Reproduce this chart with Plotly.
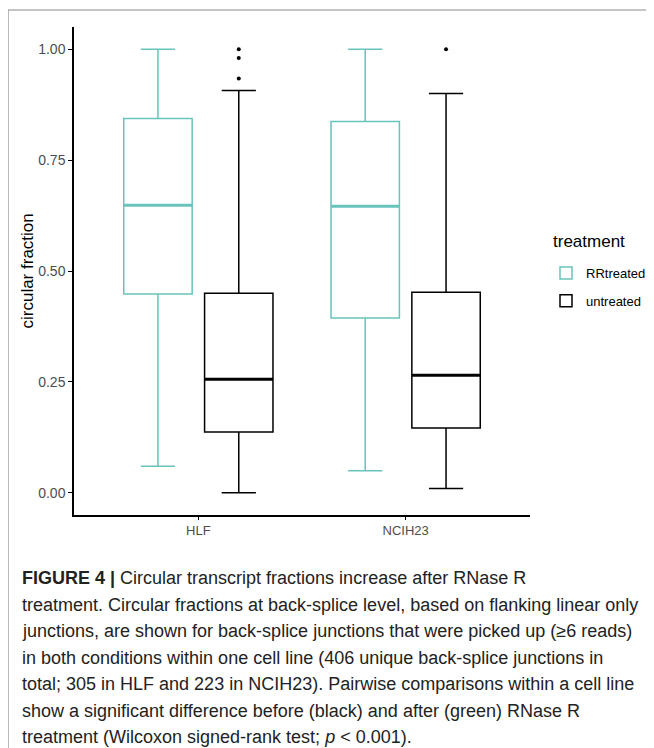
import plotly.graph_objects as go

# ---- data ----
cell_lines = ["HLF", "NCIH23"]
treatments = ["RRtreated", "untreated"]

rr_q1 = [0.448, 0.394]
rr_median = [0.648, 0.646]
rr_q3 = [0.844, 0.837]
rr_lower = [0.06, 0.05]
rr_upper = [1.00, 1.00]
rr_outliers = [[], []]

un_q1 = [0.137, 0.146]
un_median = [0.256, 0.265]
un_q3 = [0.450, 0.452]
un_lower = [0.0, 0.01]
un_upper = [0.907, 0.900]
un_outliers = [[1.0, 0.98, 0.934], [1.0]]

y_ticks = [0.0, 0.25, 0.5, 0.75, 1.0]
y_ticklabels = ["0.00", "0.25", "0.50", "0.75", "1.00"]

caption_lines = [
    "<b>FIGURE 4 |</b> Circular transcript fractions increase after RNase R",
    "treatment. Circular fractions at back-splice level, based on flanking linear only",
    "junctions, are shown for back-splice junctions that were picked up (≥6 reads)",
    "in both conditions within one cell line (406 unique back-splice junctions in",
    "total; 305 in HLF and 223 in NCIH23). Pairwise comparisons within a cell line",
    "show a significant difference before (black) and after (green) RNase R",
    "treatment (Wilcoxon signed-rank test; <i>p</i> &lt; 0.001).",
]

# ---- style ----
TEAL = "#68C3BB"
BLACK = "#000000"
OFFSET = 0.195
BOXW = 0.33
TICKC = "#4D4D4D"
FONT = "Liberation Sans, Arial, sans-serif"

# page body has an 8px margin; lay out in reference pixels and shift
SHIFT = 8
W, H = 654 - SHIFT, 748 - SHIFT
PLOT_L, PLOT_R, PLOT_T, PLOT_B = 74, 530, 27, 515  # reference pixels
L = PLOT_L - SHIFT
R = W - (PLOT_R - SHIFT)
T = PLOT_T - SHIFT
B = H - (PLOT_B - SHIFT)
PW = W - L - R
PH = H - T - B


def px_x(px):
    return (px - SHIFT - L) / PW


def px_y(py):
    return (H - B - (py - SHIFT)) / PH


fig = go.Figure()

series = [
    ("RRtreated", TEAL, -OFFSET, rr_q1, rr_median, rr_q3, rr_lower, rr_upper, rr_outliers),
    ("untreated", BLACK, OFFSET, un_q1, un_median, un_q3, un_lower, un_upper, un_outliers),
]

for name, color, off, q1, med, q3, lo, hi, outl in series:
    xs = [i + 1 + off for i in range(len(cell_lines))]
    fig.add_trace(go.Box(
        name=name, x=xs, q1=q1, median=med, q3=q3,
        lowerfence=lo, upperfence=hi,
        width=BOXW, line=dict(color=color, width=1.5),
        fillcolor="rgba(0,0,0,0)", boxpoints=False,
        legendgroup=name, showlegend=True, hoverinfo="skip",
    ))
    # thicker median bar
    mx, my = [], []
    for x, m in zip(xs, med):
        mx += [x - BOXW / 2, x + BOXW / 2, None]
        my += [m, m, None]
    fig.add_trace(go.Scatter(
        x=mx, y=my, mode="lines", line=dict(color=color, width=3),
        showlegend=False, legendgroup=name, hoverinfo="skip",
    ))
    # outliers
    ox, oy = [], []
    for x, pts in zip(xs, outl):
        for p in pts:
            ox.append(x)
            oy.append(p)
    if ox:
        fig.add_trace(go.Scatter(
            x=ox, y=oy, mode="markers",
            marker=dict(color=color, size=4),
            showlegend=False, legendgroup=name, hoverinfo="skip",
        ))

fig.update_layout(
    width=W, height=H,
    margin=dict(l=L, r=R, t=T, b=B, pad=0, autoexpand=False),
    paper_bgcolor="white", plot_bgcolor="white",
    font=dict(family=FONT, color="#000000"),
    showlegend=True,
    legend=dict(
        font=dict(size=13, color="#000000"),
        x=px_x(546), xanchor="left",
        y=px_y(258), yanchor="top",
        traceorder="grouped", tracegroupgap=8,
        bgcolor="rgba(0,0,0,0)",
    ),
    xaxis=dict(
        range=[0.4, 2.6], automargin=False,
        tickvals=[i + 1 for i in range(len(cell_lines))],
        ticktext=cell_lines,
        showgrid=False, zeroline=False,
        showline=True, linecolor="black", linewidth=1.5,
        ticks="outside", ticklen=3, tickcolor="black", tickwidth=1,
        tickfont=dict(size=13, color=TICKC),
    ),
    yaxis=dict(
        range=[-0.05, 1.05], automargin=False,
        tickvals=y_ticks, ticktext=y_ticklabels,
        showgrid=False, zeroline=False,
        showline=True, linecolor="black", linewidth=1.5,
        ticks="outside", ticklen=4, tickcolor="black", tickwidth=1,
        tickfont=dict(size=14, color=TICKC),
    ),
)

# y-axis title
fig.add_annotation(
    text="circular fraction", xref="paper", yref="paper",
    x=px_x(27), y=px_y(271.5), xanchor="center", yanchor="middle",
    textangle=-90, showarrow=False,
    font=dict(size=17, color="#000000", family=FONT),
)

# legend title
fig.add_annotation(
    text="treatment", xref="paper", yref="paper",
    x=px_x(551), y=px_y(241), xanchor="left", yanchor="middle",
    showarrow=False, font=dict(size=17, color="#000000", family=FONT),
)

# figure frame (top and left edges visible)
fig.add_shape(type="line", xref="paper", yref="paper",
              x0=px_x(8), x1=px_x(720), y0=px_y(10), y1=px_y(10),
              line=dict(color="#8A8A8A", width=1.2))
fig.add_shape(type="line", xref="paper", yref="paper",
              x0=px_x(8), x1=px_x(8), y0=px_y(10), y1=px_y(820),
              line=dict(color="#8A8A8A", width=1.2))

# caption
line_y = [578, 604.5, 631, 657.5, 684, 710.5, 737]
for txt, py in zip(caption_lines, line_y):
    fig.add_annotation(
        text=txt, xref="paper", yref="paper",
        x=px_x(20), y=px_y(py), xanchor="left", yanchor="middle",
        showarrow=False, align="left",
        font=dict(size=18, color="#222222", family=FONT),
    )

fig.write_html("out.html")
